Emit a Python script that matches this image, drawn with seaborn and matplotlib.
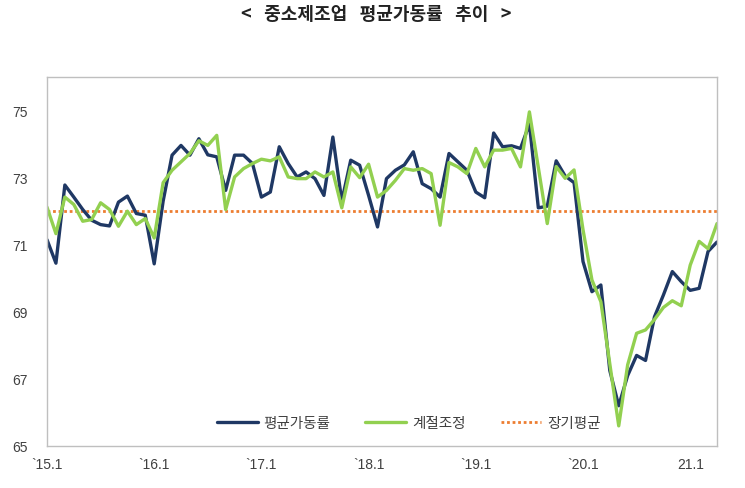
import numpy as np
import pandas as pd
import matplotlib
matplotlib.use("Agg")
import matplotlib.pyplot as plt
import seaborn as sns

# ---- data ----
title = "<   중소제조업   평균가동률   추이   >"
series_names = ["평균가동률", "계절조정", "장기평균"]
tick_labels = ["`15.1", "`16.1", "`17.1", "`18.1", "`19.1", "`20.1", "21.1"]

avg_rate = [71.15, 70.45, 72.78, 72.42, 72.05, 71.73, 71.60, 71.56, 72.27, 72.45,
            71.93, 71.88, 70.43, 72.30, 73.67, 73.96, 73.67, 74.16, 73.68, 73.62,
            72.62, 73.67, 73.67, 73.42, 72.42, 72.57, 73.92, 73.42, 73.02, 73.17,
            72.97, 72.47, 74.21, 72.30, 73.52, 73.37, 72.47, 71.53, 72.97, 73.22,
            73.38, 73.77, 72.82, 72.67, 72.42, 73.72, 73.47, 73.22, 72.57, 72.40,
            74.33, 73.92, 73.95, 73.87, 74.60, 72.10, 72.15, 73.50, 73.05, 72.85,
            70.50, 69.60, 69.80, 67.25, 66.20, 67.10, 67.70, 67.55, 68.85, 69.50,
            70.20, 69.90, 69.64, 69.70, 70.80, 71.08]

seasonal_adj = [72.12, 71.33, 72.42, 72.20, 71.70, 71.75, 72.25, 72.05, 71.55, 72.00,
                71.60, 71.78, 71.20, 72.85, 73.22, 73.47, 73.72, 74.10, 73.96, 74.26,
                72.05, 73.02, 73.27, 73.42, 73.55, 73.50, 73.62, 73.02, 72.97, 72.97,
                73.17, 73.02, 73.17, 72.10, 73.32, 73.00, 73.40, 72.42, 72.62, 72.92,
                73.27, 73.22, 73.27, 73.12, 71.58, 73.45, 73.32, 73.12, 73.87, 73.32,
                73.82, 73.82, 73.87, 73.32, 74.96, 73.30, 71.63, 73.33, 72.98, 73.23,
                71.45, 69.95, 69.30, 67.45, 65.60, 67.42, 68.36, 68.46, 68.77, 69.13,
                69.33, 69.18, 70.39, 71.10, 70.88, 71.63]

long_term_avg = 72.0

months = list(range(len(avg_rate)))
df = pd.DataFrame({"month": months, "rate": avg_rate, "sa": seasonal_adj})

# ---- style ----
sns.set_theme(style="white")
plt.rcParams["font.family"] = ["Liberation Sans", "Noto Sans CJK KR", "DejaVu Sans"]

fig = plt.figure(figsize=(7.45, 4.89), dpi=100)
ax = fig.add_axes([47/745, 42/489, 670/745, 369/489])

navy = "#1F3864"
green = "#92D050"
orange = "#ED7D31"

sns.lineplot(data=df, x="month", y="rate", ax=ax, color=navy, linewidth=2.4,
             label=series_names[0])
sns.lineplot(data=df, x="month", y="sa", ax=ax, color=green, linewidth=2.4,
             label=series_names[1])
ax.axhline(long_term_avg, color=orange, linewidth=2.0, linestyle=(0, (1, 1)),
           label=series_names[2], zorder=1)

ax.set_xlim(0, len(avg_rate) - 1)
ax.set_ylim(65, 76)
ax.set_yticks([65, 67, 69, 71, 73, 75])
ax.set_xticks(months[::12])
ax.set_xticklabels(tick_labels)
ax.set_xlabel("")
ax.set_ylabel("")
ax.tick_params(axis="both", length=0, labelsize=10, labelcolor="#404040")
ax.tick_params(axis="x", pad=8)
ax.tick_params(axis="y", pad=14)

for s in ax.spines.values():
    s.set_visible(True)
    s.set_color("#BFBFBF")
    s.set_linewidth(1.0)

leg = ax.legend(loc="center", bbox_to_anchor=(0.54, 0.063), ncol=3, frameon=False,
                fontsize=10.5, handlelength=2.8, handletextpad=0.4, columnspacing=2.4)
for t in leg.get_texts():
    t.set_color("#404040")

fig.suptitle(title, x=0.505, y=0.99, fontsize=13, fontweight="bold",
             family=["Noto Sans CJK KR", "DejaVu Sans"], color="#222222")

fig.savefig("out.png", dpi=100)
